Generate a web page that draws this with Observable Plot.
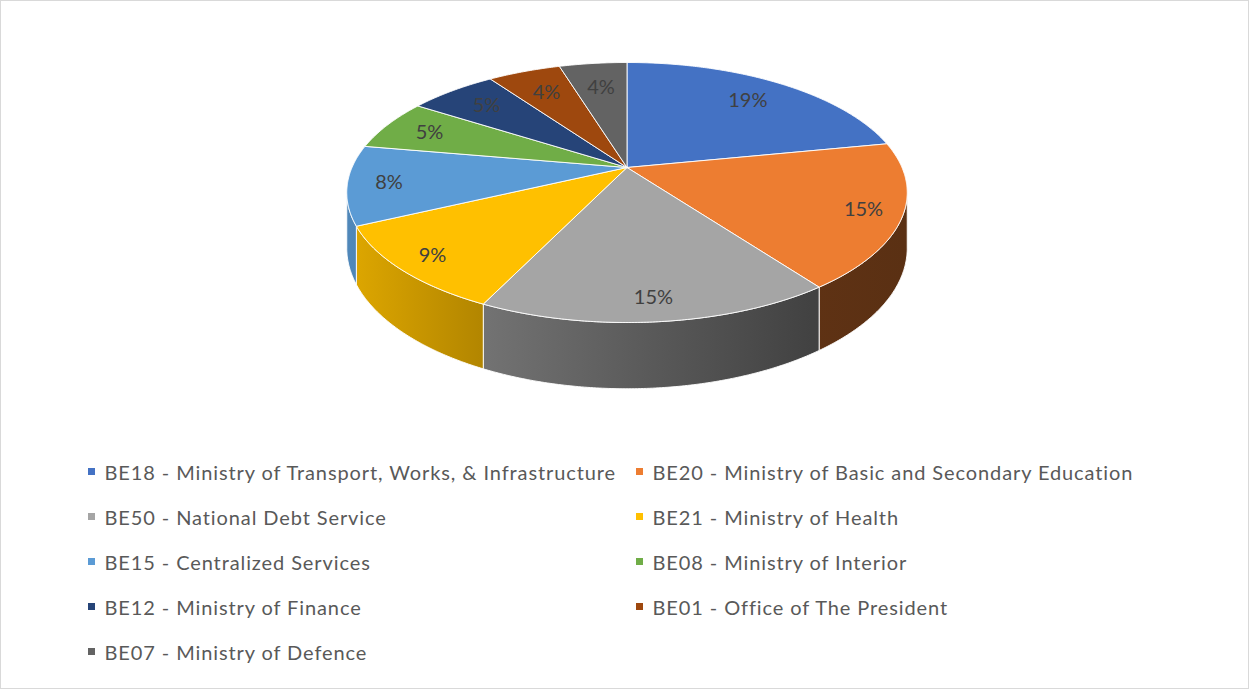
<!DOCTYPE html>
<html><head><meta charset="utf-8">
<script src="https://cdn.jsdelivr.net/npm/d3@7"></script>
<script src="https://cdn.jsdelivr.net/npm/@observablehq/plot@0.6"></script>
<style>
html,body{margin:0;padding:0;background:#fff;}
#chart{position:relative;width:1249px;height:689px;overflow:hidden;font-family:Lato,"Open Sans",sans-serif;}
#chart::after{content:"";position:absolute;left:0;top:0;right:0;bottom:0;border:1px solid #d9d9d9;pointer-events:none;}
#chart svg{position:absolute;left:0;top:0;}
#legend{position:absolute;left:88px;top:449px;display:grid;grid-template-columns:548px auto;grid-auto-rows:45px;}
.item{display:flex;align-items:center;font-size:20px;letter-spacing:0.9px;color:#595959;white-space:nowrap;}
.sw{width:7px;height:7px;margin-right:9.5px;flex:none;}
</style></head><body><div id="chart"></div>
<script>
const categories = [
  "BE18 - Ministry of Transport, Works, & Infrastructure",
  "BE20 - Ministry of Basic and Secondary Education",
  "BE50 - National Debt Service",
  "BE21 - Ministry of Health",
  "BE15 - Centralized Services",
  "BE08 - Ministry of Interior",
  "BE12 - Ministry of Finance",
  "BE01 - Office of The President",
  "BE07 - Ministry of Defence"
];
const shares = [0.186, 0.154, 0.146, 0.092, 0.084, 0.054, 0.052, 0.043, 0.040];
const colors = ["#4472C4","#ED7D31","#A5A5A5","#FFC000","#5B9BD5","#70AD47","#264478","#9E480E","#636363"];

// 3D pie geometry (perspective projection of a disk)
const CX = 626.5, CY = 167, A = 275, B = 125.2, K = 0.1923, DEPTH = 53.5;
function proj(theta, r, down = 0) {
  const u = r * Math.sin(theta), v = r * Math.cos(theta);
  const w = 1 + K * v;
  return [CX + A * u / w, CY - B * v / w + down / w];
}
const arcs = d3.pie().sort(null).value(d => d)(shares);
const STEP = Math.PI / 360;
function arcPts(a0, a1, down) {
  const n = Math.max(2, Math.ceil(Math.abs(a1 - a0) / STEP));
  return d3.range(n + 1).map(i => proj(a0 + (a1 - a0) * i / n, 1, down));
}
// top faces
const topPts = [];
arcs.forEach((a, i) => {
  const c = proj(0, 0);
  const pts = [c, ...arcPts(a.startAngle, a.endAngle, 0), c];
  pts.forEach(p => topPts.push({cat: categories[i], x: p[0], y: p[1]}));
});
// front walls
const F0 = Math.acos(-K), F1 = 2 * Math.PI - Math.acos(-K);
const walls = [];
arcs.forEach((a, i) => {
  const s = Math.max(a.startAngle, F0), e = Math.min(a.endAngle, F1);
  if (e <= s) return;
  const pts = [...arcPts(s, e, 0), ...arcPts(e, s, DEPTH)];
  pts.push(pts[0]);
  walls.push({i, pts: pts.map(p => ({x: p[0], y: p[1]}))});
});
// labels
const labels = arcs.map((a, i) => {
  const m = (a.startAngle + a.endAngle) / 2;
  const r = 0.795 - 0.07 * Math.cos(m) + 0.05 * Math.abs(Math.sin(m));
  const p = proj(m, r);
  return {x: p[0], y: p[1], text: d3.format(".0%")(shares[i])};
});

const svg = Plot.plot({
  width: 1249, height: 440, margin: 0,
  x: {domain: [0, 1249], range: [0, 1249], axis: null},
  y: {domain: [0, 440], range: [0, 440], axis: null},
  color: {domain: categories, range: colors},
  style: {background: "transparent", fontFamily: "Lato, sans-serif"},
  marks: [
    ...walls.map(w => Plot.line(w.pts, {x: "x", y: "y", fill: `url(#wall${w.i})`, stroke: "white", strokeWidth: 1, strokeOpacity: 0.9})),
    Plot.line(topPts, {x: "x", y: "y", z: "cat", fill: "cat", stroke: "white", strokeWidth: 1, strokeOpacity: 0.9}),
    Plot.text(labels, {x: "x", y: "y", text: "text", fontSize: 20, fill: "#404040"})
  ]
});
// wall gradients (shading)
const shadeStops = [[350, 0.87], [480, 0.70], [640, 0.55], [810, 0.40], [907, 0.38]];
const defs = d3.select(svg).insert("defs", ":first-child");
walls.forEach(w => {
  const g = defs.append("linearGradient").attr("id", `wall${w.i}`)
    .attr("gradientUnits", "userSpaceOnUse").attr("x1", 350).attr("x2", 907).attr("y1", 0).attr("y2", 0);
  const base = d3.rgb(colors[w.i]);
  shadeStops.forEach(([x, f]) => {
    g.append("stop").attr("offset", (x - 350) / (907 - 350))
      .attr("stop-color", d3.rgb(base.r * f, base.g * f, base.b * f).formatHex());
  });
});
const chart = document.getElementById("chart");
chart.appendChild(svg);
const legend = document.createElement("div");
legend.id = "legend";
categories.forEach((c, i) => {
  const it = document.createElement("div");
  it.className = "item";
  it.innerHTML = `<span class="sw" style="background:${colors[i]}"></span><span></span>`;
  it.lastChild.textContent = c;
  legend.appendChild(it);
});
chart.appendChild(legend);
</script></body></html>
